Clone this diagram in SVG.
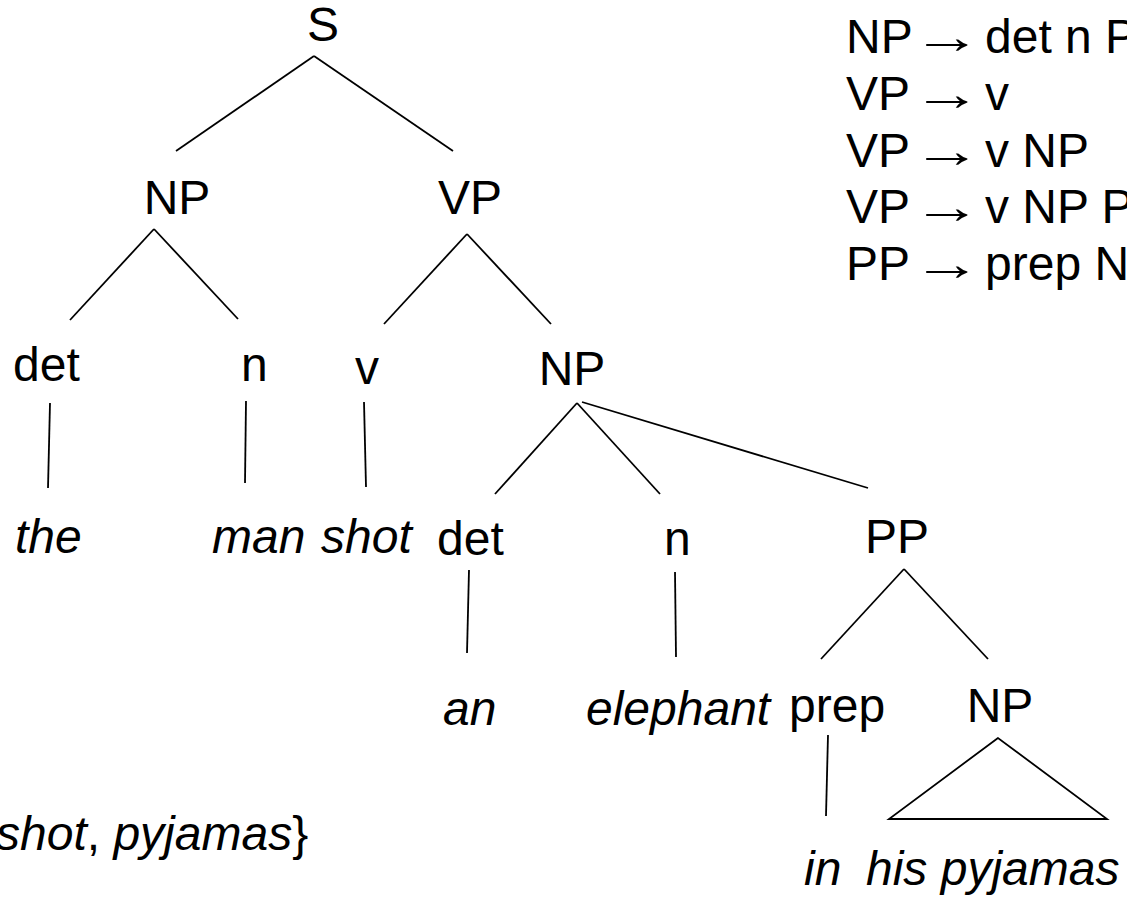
<svg xmlns="http://www.w3.org/2000/svg" width="1127" height="897" viewBox="0 0 1127 897">
<style>
text{font-family:"Liberation Sans",Arial,sans-serif;font-size:48px;fill:#000}
.c{text-anchor:middle}
.i{font-style:italic}
.e line,.e polygon{stroke:#000;stroke-width:1.8;fill:none;stroke-linecap:butt}
</style>
<rect width="1127" height="897" fill="#fff"/>
<g id="connectors" class="e">
<line x1="314" y1="56" x2="176" y2="151"/>
<line x1="314" y1="56" x2="453" y2="151"/>
<line x1="154" y1="229" x2="70" y2="320"/>
<line x1="154" y1="229" x2="238" y2="319"/>
<line x1="467" y1="234" x2="384" y2="324"/>
<line x1="467" y1="234" x2="551" y2="324"/>
<line x1="50" y1="403" x2="48" y2="488"/>
<line x1="246" y1="401" x2="245" y2="483"/>
<line x1="364" y1="402" x2="366" y2="487"/>
<line x1="577" y1="403" x2="495" y2="494"/>
<line x1="577" y1="403" x2="660" y2="494"/>
<line x1="582" y1="402" x2="868" y2="488"/>
<line x1="469" y1="570" x2="467" y2="653"/>
<line x1="675" y1="572" x2="676" y2="657"/>
<line x1="904" y1="569" x2="821" y2="659"/>
<line x1="904" y1="569" x2="988" y2="659"/>
<line x1="828" y1="735" x2="826" y2="816"/>
<polygon points="998,738 889,819 1107,819"/>
</g>
<g id="n-S"><text class="c" x="323" y="41">S</text></g>
<g id="n-NP1"><text class="c" x="177" y="214">NP</text></g>
<g id="n-VP"><text class="c" x="470" y="214">VP</text></g>
<g id="n-det1"><text x="13" y="381">det</text></g>
<g id="n-n1"><text x="241" y="381">n</text></g>
<g id="n-v"><text x="355" y="384">v</text></g>
<g id="n-NP2"><text class="c" x="572" y="385">NP</text></g>
<g id="w-the"><text class="i" x="15" y="553">the</text></g>
<g id="w-man"><text class="i" x="212" y="553">man</text></g>
<g id="w-shot"><text class="i" x="321" y="553">shot</text></g>
<g id="n-det2"><text x="437" y="555">det</text></g>
<g id="n-n2"><text x="664" y="555">n</text></g>
<g id="n-PP"><text class="c" x="897" y="553">PP</text></g>
<g id="w-an"><text class="i" x="443" y="725">an</text></g>
<g id="w-elephant"><text class="i" x="586" y="725">elephant</text></g>
<g id="n-prep"><text x="789" y="722">prep</text></g>
<g id="n-NP3"><text class="c" x="1000" y="722">NP</text></g>
<g id="w-in"><text class="i" x="804" y="885">in</text></g>
<g id="w-hispyjamas"><text class="i" x="866" y="885">his pyjamas</text></g>
<g id="set"><text x="-4" y="850"><tspan class="i">shot</tspan>, <tspan class="i">pyjamas</tspan>}</text></g>
<g id="rules">
<text x="846" y="53">NP</text><text transform="translate(912,53) scale(1.45,1)">→</text><text x="985" y="53">det n P</text>
<text x="846" y="110">VP</text><text transform="translate(912,110) scale(1.45,1)">→</text><text x="985" y="110">v</text>
<text x="846" y="167">VP</text><text transform="translate(912,167) scale(1.45,1)">→</text><text x="985" y="167">v NP</text>
<text x="846" y="223">VP</text><text transform="translate(912,223) scale(1.45,1)">→</text><text x="985" y="223">v NP P</text>
<text x="846" y="280">PP</text><text transform="translate(912,280) scale(1.45,1)">→</text><text x="985" y="280">prep N</text>
</g>
</svg>
